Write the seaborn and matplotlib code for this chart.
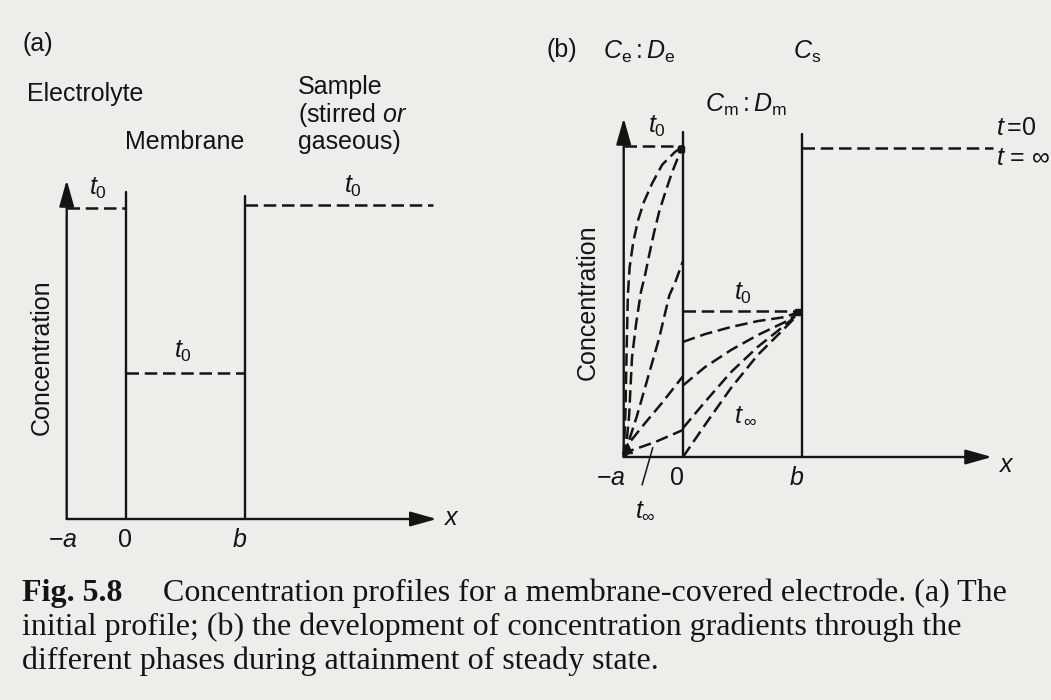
import numpy as np
import pandas as pd
import matplotlib
matplotlib.use("Agg")
import matplotlib.pyplot as plt
import seaborn as sns

# -----------------------------
# data (x in units of a, concentration relative to electrolyte at t0)
# -----------------------------
x_elec = [-1.0, 0.0]          # electrolyte layer
x_memb = [0.0, 2.0]           # membrane
x_samp_a = [2.0, 5.18]        # sample, panel (a)
x_samp_b = [2.0, 5.23]        # sample, panel (b)
c_elec_t0 = 1.0
c_memb_t0 = 0.47
c_samp_t0 = 1.0

# panel (b): electrolyte profiles, from t0 side towards t_inf
elec1_x = [-1.0, -0.97, -0.95, -0.93, -0.90, -0.84, -0.76, -0.66, -0.52, -0.35, -0.14, 0.0]
elec1_c = [0.0, 0.15, 0.35, 0.52, 0.61, 0.69, 0.76, 0.82, 0.88, 0.94, 0.98, 1.0]
elec2_x = [-1.0, -0.95, -0.91, -0.86, -0.79, -0.71, -0.64, -0.57, -0.49, -0.40, -0.30, -0.185, -0.07, 0.0]
elec2_c = [0.0, 0.05, 0.13, 0.32, 0.43, 0.53, 0.585, 0.65, 0.72, 0.79, 0.85, 0.915, 0.97, 1.0]
elec3_x = [-1.0, -0.78, -0.57, -0.405, -0.23, -0.135, 0.0]
elec3_c = [0.0, 0.13, 0.27, 0.38, 0.52, 0.56, 0.63]
elec4_x = [-1.0, -0.91, -0.64, -0.354, 0.0]
elec4_c = [0.0, 0.045, 0.109, 0.174, 0.26]
elec5_x = [-1.0, -0.86, -0.47, 0.0]
elec5_c = [0.0, 0.022, 0.048, 0.087]

# panel (b): membrane profiles
memb_x = [0.0, 0.37, 0.81, 1.26, 1.72, 2.0]
memb1_c = [0.37, 0.395, 0.418, 0.437, 0.45, 0.47]
memb2_c = [0.23, 0.289, 0.344, 0.392, 0.434, 0.47]
memb3_c = [0.093, 0.177, 0.273, 0.354, 0.424, 0.47]
memb4_c = [0.0, 0.103, 0.222, 0.328, 0.415, 0.47]

# -----------------------------
# style
# -----------------------------
sns.set_theme(style="white")
plt.rcParams['font.family'] = ['Liberation Sans', 'DejaVu Sans']
plt.rcParams['mathtext.fontset'] = 'custom'
plt.rcParams['mathtext.rm'] = 'Liberation Sans'
plt.rcParams['mathtext.it'] = 'Liberation Sans:italic'
plt.rcParams['mathtext.bf'] = 'Liberation Sans:bold'

W, H = 1051, 700
SX, SY = 59.3, 311.0      # pixels per data unit
BG = '#eeede9'
INK = '#141414'
LW = 1.7
DASH = (0, (5, 2.3))
FS = 18

fig = plt.figure(figsize=(W / 100, H / 100), dpi=100, facecolor=BG)


def place(ox, oy, xlim=(-1.8, 5.8), ylim=(-0.25, 1.3)):
    left = ox + xlim[0] * SX
    right = ox + xlim[1] * SX
    top = oy - ylim[1] * SY
    bottom = oy - ylim[0] * SY
    ax = fig.add_axes([left / W, 1 - bottom / H, (right - left) / W, (bottom - top) / H])
    ax.set_xlim(xlim)
    ax.set_ylim(ylim)
    ax.set_axis_off()
    ax.patch.set_alpha(0)
    return ax


def txt(px, py, s, ha='center', **kw):
    kw.setdefault('fontsize', FS)
    kw.setdefault('color', INK)
    fig.text(px / W, 1 - py / H, s, ha=ha, va='center', **kw)


def dashed(ax, xs, ys):
    sns.lineplot(x=xs, y=ys, ax=ax, color=INK, lw=LW + 0.1, linestyle=DASH,
                 sort=False, estimator=None, clip_on=False)


def frame(ax, xtip, ytip, top0, topb):
    arrow = dict(arrowstyle='-|>,head_length=1.6,head_width=0.45', mutation_scale=10,
                 lw=LW, color=INK, shrinkA=0, shrinkB=0)
    ax.annotate('', xy=(xtip, 0), xytext=(-1, 0), arrowprops=arrow, annotation_clip=False)
    ax.annotate('', xy=(-1, ytip), xytext=(-1, 0), arrowprops=arrow, annotation_clip=False)
    ax.plot([0, 0], [0, top0], color=INK, lw=LW)
    ax.plot([2, 2], [0, topb], color=INK, lw=LW)


# -----------------------------
# (a) initial profile
# -----------------------------
ax_a = place(126, 519)
frame(ax_a, 5.24, 1.09, 1.05, 1.04)
dashed(ax_a, x_elec, [c_elec_t0] * 2)
dashed(ax_a, x_memb, [c_memb_t0] * 2)
dashed(ax_a, x_samp_a, [c_samp_t0 + 0.01] * 2)

txt(22, 44, '(a)', ha='left')
txt(27, 94, 'Electrolyte', ha='left')
txt(125, 142, 'Membrane', ha='left')
txt(298, 87, 'Sample', ha='left')
txt(298, 115, r'(stirred $\mathit{or}$', ha='left')
txt(298, 142, 'gaseous)', ha='left')
txt(98, 188, r'$t_0$')
txt(183, 351, r'$t_0$')
txt(353, 186, r'$t_0$')
txt(42, 357, 'Concentration', rotation=90)
txt(63, 540, r'$-a$')
txt(125, 540, '0')
txt(240, 540, r'$b$')
txt(451, 518, r'$x$')

# -----------------------------
# (b) development of gradients
# -----------------------------
ax_b = place(683, 457)
frame(ax_b, 5.21, 1.09, 1.045, 1.04)
dashed(ax_b, x_elec, [c_elec_t0] * 2)
dashed(ax_b, x_memb, [c_memb_t0] * 2)
dashed(ax_b, x_samp_b, [c_samp_t0 - 0.005] * 2)

elec_curves = [(elec1_x, elec1_c), (elec2_x, elec2_c), (elec3_x, elec3_c),
               (elec4_x, elec4_c), (elec5_x, elec5_c)]
rows = []
for i, (xs, cs) in enumerate(elec_curves):
    rows += [dict(curve=f'e{i}', x=xv, c=cv) for xv, cv in zip(xs, cs)]
for i, cs in enumerate([memb1_c, memb2_c, memb3_c, memb4_c]):
    rows += [dict(curve=f'm{i}', x=xv, c=cv) for xv, cv in zip(memb_x, cs)]
profiles = pd.DataFrame(rows)

sns.lineplot(data=profiles, x='x', y='c', units='curve', estimator=None, sort=False,
             color=INK, lw=LW + 0.1, linestyle=DASH, legend=False, ax=ax_b)

# ink blobs where the profiles meet
ax_b.plot([2.0 - 0.06], [c_memb_t0 - 0.005], marker='s', ms=5, color=INK)
ax_b.plot([-1.0 + 0.06], [0.03], marker='^', ms=7, color=INK)
ax_b.plot([0.0 - 0.03], [c_elec_t0 - 0.01], marker='s', ms=4, color=INK)

# pointer for t_inf in electrolyte
ax_b.plot([-0.69, -0.51], [-0.09, 0.03], color=INK, lw=1.1, clip_on=False)

txt(547, 50, '(b)', ha='left')
txt(603, 52, r'$C_\mathrm{e} : D_\mathrm{e}$', ha='left')
txt(793, 52, r'$C_\mathrm{s}$', ha='left')
txt(705, 105, r'$C_\mathrm{m} : D_\mathrm{m}$', ha='left')
txt(657, 126, r'$t_0$')
txt(743, 293, r'$t_0$')
txt(996, 128, r'$t\,$=0', ha='left')
txt(996, 158, r'$t$ = $\infty$', ha='left')
txt(746, 415, r'$t_{\,\infty}$')
txt(645, 510, r'$t_\infty$')
txt(588, 302, 'Concentration', rotation=90)
txt(611, 478, r'$-a$')
txt(677, 478, '0')
txt(797, 478, r'$b$')
txt(1006, 465, r'$x$')

# -----------------------------
# caption
# -----------------------------
cap = dict(fontsize=23, family='Liberation Serif')
txt(22, 593, 'Fig. 5.8', ha='left', fontweight='bold', **cap)
txt(163, 593, 'Concentration profiles for a membrane-covered electrode. (a) The', ha='left', **cap)
txt(22, 627, 'initial profile; (b) the development of concentration gradients through the',
    ha='left', **cap)
txt(22, 661, 'different phases during attainment of steady state.', ha='left', **cap)

fig.savefig('out.png', dpi=100, facecolor=BG)
